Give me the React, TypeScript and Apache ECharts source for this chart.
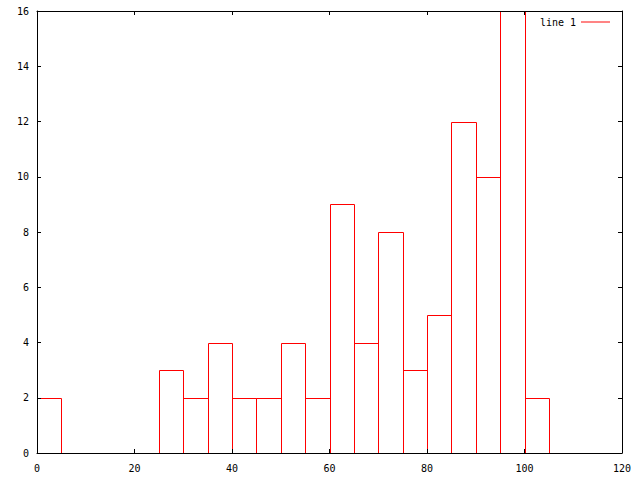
import React, { useEffect, useRef } from "react";
import * as echarts from "echarts";

const binStarts = [0, 5, 10, 15, 20, 25, 30, 35, 40, 45, 50, 55, 60, 65, 70, 75, 80, 85, 90, 95, 100];
const binWidth = 5;
const counts = [2, 0, 0, 0, 0, 3, 2, 4, 2, 2, 4, 2, 9, 4, 8, 3, 5, 12, 10, 16, 2];
const seriesName = "line 1";

export default function App() {
  const ref = useRef<HTMLDivElement>(null);
  useEffect(() => {
    const chart = echarts.init(ref.current!, null, { renderer: "svg" });
    const data = binStarts.map((s, i) => [s, s + binWidth, counts[i]]);
    const font = { fontFamily: "DejaVu Sans Mono", fontSize: 10, color: "#000" };
    const axisLine = { show: true, onZero: false, lineStyle: { color: "#000", width: 1 } };
    const tick = { show: true, inside: true, length: 4, lineStyle: { color: "#000" } };
    chart.setOption({
      animation: false,
      backgroundColor: "#fff",
      grid: { left: 37, right: 18, top: 11, bottom: 27, show: false },
      legend: {
        data: [{ name: seriesName, icon: "path://M0,0L30,0L30,1L0,1Z" }],
        right: 25,
        top: 12,
        align: "right",
        itemWidth: 29,
        itemHeight: 1,
        textStyle: { ...font },
        selectedMode: false,
      },
      xAxis: [
        {
          type: "value",
          min: 0,
          max: 120,
          interval: 20,
          position: "bottom",
          z: 5,
          axisLine,
          axisTick: tick,
          axisLabel: { ...font, margin: 10 },
          splitLine: { show: false },
        },
        {
          type: "value",
          min: 0,
          max: 120,
          interval: 20,
          position: "top",
          z: 5,
          axisLine,
          axisTick: tick,
          axisLabel: { show: false },
          splitLine: { show: false },
        },
      ],
      yAxis: [
        {
          type: "value",
          min: 0,
          max: 16,
          interval: 2,
          position: "left",
          z: 5,
          axisLine,
          axisTick: tick,
          axisLabel: { ...font, margin: 8 },
          splitLine: { show: false },
        },
        {
          type: "value",
          min: 0,
          max: 16,
          interval: 2,
          position: "right",
          z: 5,
          axisLine,
          axisTick: tick,
          axisLabel: { show: false },
          splitLine: { show: false },
        },
      ],
      series: [
        {
          name: seriesName,
          type: "custom",
          xAxisIndex: 0,
          yAxisIndex: 0,
          z: 1,
          color: "#ff0000",
          encode: { x: [0, 1], y: 2 },
          data,
          renderItem: (params: any, api: any) => {
            const v = api.value(2);
            if (!v) return null;
            const p0 = api.coord([api.value(0), 0]);
            const p1 = api.coord([api.value(1), v]);
            return {
              type: "rect",
              shape: {
                x: Math.round(p0[0]) + 0.5,
                y: Math.round(p1[1]) + 0.5,
                width: Math.round(p1[0]) - Math.round(p0[0]),
                height: Math.round(p0[1]) - Math.round(p1[1]),
              },
              style: { fill: "none", stroke: "#ff0000", lineWidth: 1 },
            };
          },
        },
      ],
    });
    return () => chart.dispose();
  }, []);
  return (
    <div
      ref={ref}
      style={{ position: "fixed", left: 0, top: 0, width: 640, height: 480, background: "#fff" }}
    />
  );
}
